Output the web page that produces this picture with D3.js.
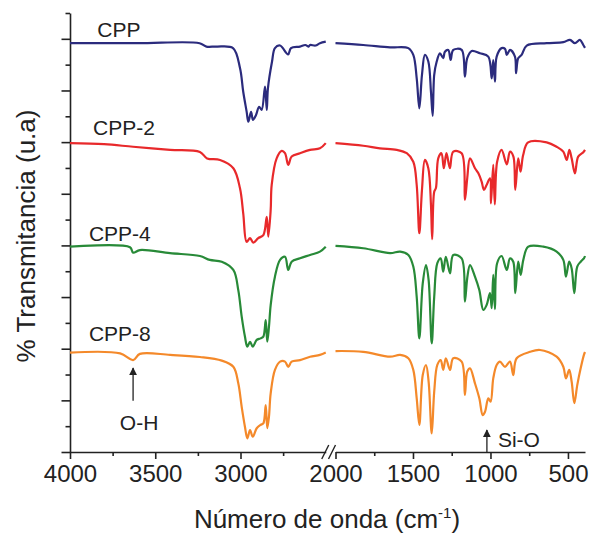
<!DOCTYPE html>
<html>
<head>
<meta charset="utf-8">
<script src="https://cdn.jsdelivr.net/npm/d3@7"></script>
<style>
  body { margin: 0; background: #fff; }
  svg { display: block; font-family: "Liberation Sans", Arial, sans-serif; }
</style>
</head>
<body>
<div id="container"></div>
<script>
// Spectra: [wavenumber (cm-1), transmittance (u.a, offset already applied)]
const cppData = [
    [4000,15.83],[3600,15.83],[3240,15.83],[3200,15.70],[3140,15.70],[3044,15.64],[3003,14.87],
    [2984,13.95],[2964,13.18],[2954,12.79],[2938,13.17],[2927,12.86],[2909,13.05],[2891,13.37],
    [2876,13.25],[2856,14.15],[2846,13.25],[2839,14.09],[2815,15.12],[2798,15.64],[2768,15.74],
    [2721,15.40],[2704,15.64],[2651,15.70],[2620,15.76],[2600,15.70],[2592,15.76],[2560,15.74],
    [2534,15.83],[2500,15.89],
    [2000,15.83],[1821,15.76],[1648,15.67],[1530,15.64],[1498,15.38],[1476,14.47],[1459,13.31],
    [1442,14.60],[1423,15.38],[1401,15.12],[1384,13.95],[1373,13.02],[1363,14.60],[1347,15.12],
    [1326,15.44],[1305,15.25],[1294,15.50],[1272,15.57],[1257,15.18],[1240,15.57],[1186,15.57],
    [1165,14.54],[1150,15.25],[1121,15.53],[1068,15.44],[1014,15.31],[992,14.47],[982,15.18],
    [971,14.34],[960,15.31],[928,15.64],[906,15.61],[895,15.38],[874,15.57],[842,15.31],
    [835,14.67],[821,15.25],[799,15.38],[766,15.74],[637,15.83],[530,15.87],[487,15.96],
    [455,15.83],[423,15.96],[401,15.76],[390,15.65]
];

const cpp2Data = [
    [4000,11.96],[3800,11.92],[3630,11.82],[3413,11.70],[3238,11.62],[3196,11.37],[3120,11.31],
    [3042,10.99],[3003,10.21],[2984,9.24],[2964,8.14],[2944,8.28],[2925,8.11],[2896,8.28],
    [2866,8.40],[2846,9.11],[2837,8.34],[2823,9.37],[2817,10.34],[2788,11.37],[2758,11.66],
    [2739,11.57],[2720,11.12],[2700,11.44],[2651,11.57],[2592,11.70],[2534,11.76],[2500,11.96],
    [2000,11.96],[1821,11.86],[1713,11.76],[1605,11.70],[1540,11.57],[1498,11.24],[1476,10.34],
    [1459,8.47],[1442,10.15],[1423,11.31],[1401,10.99],[1384,9.57],[1376,8.24],[1363,10.08],
    [1352,10.22],[1337,11.37],[1316,11.57],[1301,10.99],[1284,11.57],[1262,10.99],[1240,11.63],
    [1186,11.57],[1165,9.76],[1150,10.60],[1132,11.37],[1100,10.99],[1078,10.79],[1057,10.47],
    [1042,10.15],[1025,10.34],[1003,10.60],[997,9.63],[982,11.12],[972,9.59],[957,11.24],
    [928,11.70],[895,11.14],[874,11.63],[852,11.44],[840,10.15],[821,11.37],[806,10.86],
    [789,11.50],[757,11.99],[637,11.99],[573,11.82],[530,11.63],[508,11.31],[491,11.70],
    [476,11.37],[455,10.79],[434,11.44],[401,11.61],[390,11.70]
];

const cpp4Data = [
    [4000,7.95],[3648,7.93],[3630,7.72],[3590,7.82],[3413,7.70],[3238,7.59],[3180,7.44],
    [3110,7.37],[3042,7.05],[3013,6.27],[2993,5.24],[2974,4.47],[2960,4.08],[2944,4.27],
    [2928,4.08],[2905,4.34],[2882,4.40],[2866,4.47],[2852,5.11],[2843,4.27],[2833,4.85],
    [2823,5.69],[2798,6.79],[2768,7.44],[2739,7.56],[2720,7.05],[2700,7.37],[2651,7.50],
    [2592,7.63],[2534,7.76],[2500,7.95],
    [2000,7.98],[1821,7.89],[1648,7.70],[1583,7.76],[1530,7.63],[1498,7.18],[1476,6.01],
    [1459,4.40],[1437,6.53],[1416,7.24],[1399,6.66],[1379,4.21],[1363,6.01],[1343,7.31],
    [1321,7.50],[1305,6.98],[1288,7.56],[1261,6.92],[1240,7.63],[1186,7.50],[1165,5.82],
    [1150,6.73],[1132,7.24],[1100,6.79],[1072,6.27],[1046,5.50],[1025,5.69],[1003,6.15],
    [992,5.57],[982,6.86],[971,5.53],[957,7.31],[928,7.59],[895,7.05],[874,7.50],[853,7.37],
    [840,6.15],[821,7.37],[805,6.86],[788,7.44],[756,7.95],[659,7.95],[573,7.76],[530,7.44],
    [513,6.79],[492,7.37],[476,7.11],[459,6.15],[440,7.18],[418,7.37],[397,7.50],[390,7.59]
];

const cpp8Data = [
    [4000,3.85],[3706,3.82],[3630,3.56],[3590,3.80],[3413,3.76],[3238,3.68],[3110,3.54],
    [3042,3.30],[3013,2.66],[2993,1.75],[2974,0.98],[2960,0.53],[2944,0.85],[2928,0.59],
    [2905,0.92],[2882,1.05],[2866,1.11],[2852,1.82],[2843,0.92],[2833,1.37],[2823,2.27],
    [2798,3.18],[2768,3.50],[2739,3.50],[2720,3.30],[2700,3.50],[2651,3.56],[2592,3.69],
    [2534,3.76],[2500,3.85],
    [2000,3.91],[1821,3.88],[1648,3.69],[1583,3.76],[1530,3.63],[1498,3.18],[1476,2.08],
    [1459,1.05],[1437,2.98],[1416,3.37],[1399,2.72],[1379,0.72],[1363,2.34],[1343,3.37],
    [1321,3.56],[1305,3.18],[1288,3.63],[1261,3.18],[1240,3.63],[1186,3.50],[1165,2.21],
    [1150,3.11],[1132,3.24],[1100,2.66],[1072,2.08],[1050,1.43],[1035,1.56],[1014,2.08],
    [999,1.95],[982,2.85],[960,3.37],[939,3.50],[906,3.30],[874,3.50],[853,2.98],[831,3.63],
    [744,3.88],[680,3.95],[573,3.69],[530,3.30],[513,2.85],[492,3.18],[476,2.72],[459,1.89],
    [440,2.59],[418,3.24],[397,3.76],[390,3.87]
];

const seriesNames = ["CPP", "CPP-2", "CPP-4", "CPP-8"];
const seriesColors = ["#2b2b7d", "#e8292b", "#288a38", "#f4892a"];
// label anchor: [wavenumber, value]
const labelPos = [[3840, 16.08], [3865, 12.28], [3889, 8.17], [3889, 4.31]];

const leftTicks = [4000, 3500, 3000];
const leftMinor = [3750, 3250, 2750];
const rightTicks = [2000, 1500, 1000, 500];
const rightMinor = [1750, 1250, 750];
const yMajor = [0, 2, 4, 6, 8, 10, 12, 14, 16];
const yMinor = [1, 3, 5, 7, 9, 11, 13, 15, 17];

// annotations: arrow at wavenumber, from value to value
const annotations = [
    { text: "O-H", wn: 3630, from: 1.98, to: 3.25 },
    { text: "Si-O", wn: 1023, from: 0, to: 0.85 }
];

const main = (container) => {
    const width = 592, height = 537;

    const svg = d3.select(container)
        .append("svg")
        .attr("width", width)
        .attr("height", height);

    const xLeft = d3.scaleLinear().domain([4000, 2500]).range([70, 325.75]);
    const xRight = d3.scaleLinear().domain([2000, 390]).range([335.5, 585]);
    const y = d3.scaleLinear().domain([0, 17]).range([452, 13]);

    const xOf = wn => wn >= 2500 ? xLeft(wn) : xRight(wn);

    // axes
    const gxl = svg.append("g").attr("transform", "translate(0,452)")
        .call(d3.axisBottom(xLeft).tickValues(leftTicks).tickSize(7).tickSizeOuter(0)
            .tickPadding(6).tickFormat(d3.format("d")));
    svg.append("g").attr("transform", "translate(0,452)")
        .call(d3.axisBottom(xLeft).tickValues(leftMinor).tickSize(4).tickFormat(""))
        .select(".domain").remove();
    const gxr = svg.append("g").attr("transform", "translate(0,452)")
        .call(d3.axisBottom(xRight).tickValues(rightTicks).tickSize(7).tickSizeOuter(0)
            .tickPadding(6).tickFormat(d3.format("d")));
    svg.append("g").attr("transform", "translate(0,452)")
        .call(d3.axisBottom(xRight).tickValues(rightMinor).tickSize(4).tickFormat(""))
        .select(".domain").remove();

    [gxl, gxr].forEach(g => {
        g.selectAll("text")
            .style("font-size", "24px")
            .style("font-family", "'Liberation Sans', Arial, sans-serif")
            .attr("fill", "#222");
    });

    svg.append("g").attr("transform", "translate(70,0)")
        .call(d3.axisLeft(y).tickValues(yMajor).tickSize(8.5).tickSizeOuter(0).tickFormat(""));
    svg.append("g").attr("transform", "translate(70,0)")
        .call(d3.axisLeft(y).tickValues(yMinor).tickSize(4.5).tickFormat(""))
        .select(".domain").remove();

    svg.selectAll(".domain, .tick line")
        .attr("stroke", "#222")
        .attr("stroke-width", 1.6);

    // axis break marks
    const breakAt = [xLeft(2500), xRight(2000)];
    const brk = svg.append("g").attr("stroke", "#222").attr("stroke-width", 1.4);
    brk.append("line")
        .attr("x1", breakAt[0] - 4).attr("y1", 459)
        .attr("x2", breakAt[0] + 3).attr("y2", 445);
    brk.append("line")
        .attr("x1", breakAt[1] - 7).attr("y1", 459)
        .attr("x2", breakAt[1]).attr("y2", 445);

    // spectra
    const line = d3.line()
        .x(d => xOf(d[0]))
        .y(d => y(d[1]))
        .curve(d3.curveCatmullRom.alpha(0.5));

    [cppData, cpp2Data, cpp4Data, cpp8Data].forEach((data, i) => {
        const left = data.filter(d => d[0] >= 2500);
        const right = data.filter(d => d[0] <= 2000);
        [left, right].forEach(part => {
            svg.append("path")
                .datum(part)
                .attr("fill", "none")
                .attr("stroke", seriesColors[i])
                .attr("stroke-width", 2.2)
                .attr("stroke-linejoin", "round")
                .attr("d", line);
        });

        svg.append("text")
            .attr("x", xOf(labelPos[i][0]))
            .attr("y", y(labelPos[i][1]))
            .style("font-size", "21px")
            .attr("fill", "#222")
            .text(seriesNames[i]);
    });

    // arrows
    svg.append("defs").append("marker")
        .attr("id", "head")
        .attr("viewBox", "0 0 10 10")
        .attr("refX", 9).attr("refY", 5)
        .attr("markerWidth", 8).attr("markerHeight", 8)
        .attr("markerUnits", "userSpaceOnUse")
        .attr("orient", "auto")
        .append("path")
        .attr("d", "M0,0L10,5L0,10Z")
        .attr("fill", "#222");

    annotations.forEach(a => {
        svg.append("line")
            .attr("x1", xOf(a.wn)).attr("x2", xOf(a.wn))
            .attr("y1", y(a.from)).attr("y2", y(a.to))
            .attr("stroke", "#222")
            .attr("stroke-width", 1.3)
            .attr("marker-end", "url(#head)");
    });

    svg.append("text")
        .attr("x", xOf(annotations[0].wn) + 6)
        .attr("y", 430)
        .attr("text-anchor", "middle")
        .style("font-size", "21px")
        .attr("fill", "#222")
        .text(annotations[0].text);

    svg.append("text")
        .attr("x", xOf(annotations[1].wn) + 11)
        .attr("y", 447)
        .style("font-size", "21px")
        .attr("fill", "#222")
        .text(annotations[1].text);

    // axis titles
    const xt = svg.append("text")
        .attr("x", 327)
        .attr("y", 528)
        .attr("text-anchor", "middle")
        .style("font-size", "26px")
        .attr("fill", "#222");
    xt.append("tspan").text("Número de onda (cm");
    xt.append("tspan").attr("dy", -10).style("font-size", "15px").text("-1");
    xt.append("tspan").attr("dy", 10).text(")");

    svg.append("text")
        .attr("transform", "translate(35,236) rotate(-90)")
        .attr("text-anchor", "middle")
        .style("font-size", "26px")
        .attr("fill", "#222")
        .text("% Transmitancia (u.a)");
};

const container = document.getElementById("container");
main(container);
</script>
</body>
</html>
